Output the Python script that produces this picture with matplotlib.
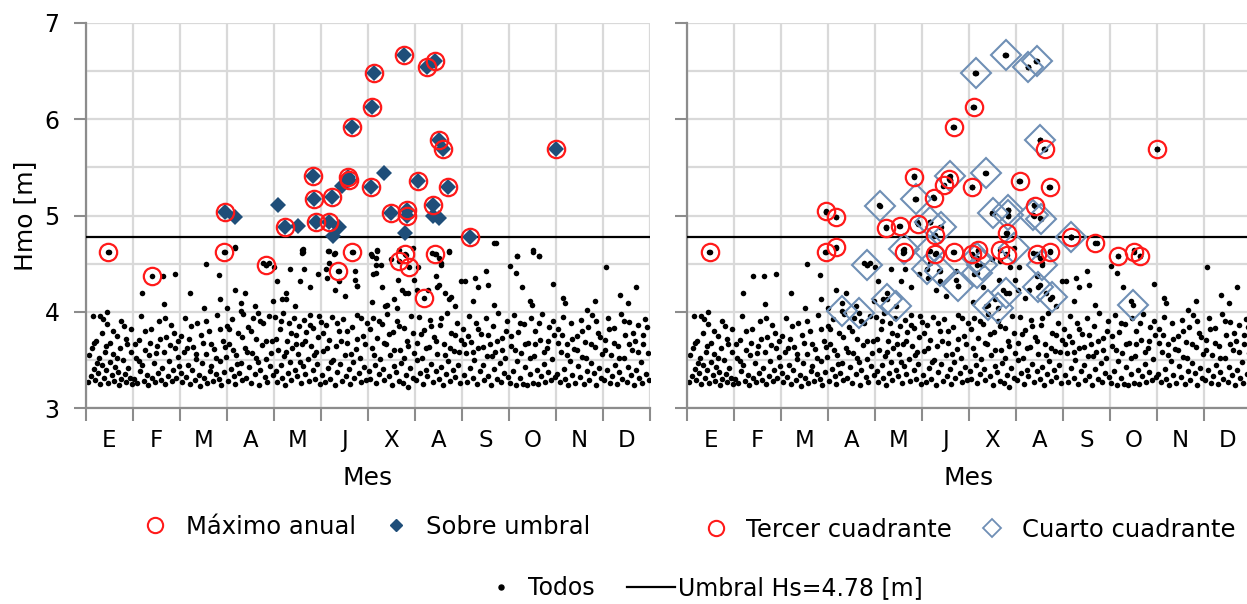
import matplotlib
matplotlib.use('Agg')
import matplotlib.pyplot as plt
from matplotlib.lines import Line2D
import numpy as np

plt.rcParams['font.family'] = ['DejaVu Sans']

# eje x en meses (0 = 1 de enero, 12 = 31 de diciembre)
meses = ['E', 'F', 'M', 'A', 'M', 'J', 'X', 'A', 'S', 'O', 'N', 'D']
umbral = 4.78

# todos los temporales (mes, Hmo)
todos_ene = [(0.05, 3.27), (0.10, 3.33), (0.12, 3.62), (0.15, 3.96), (0.18, 3.41), (0.20, 3.29),
             (0.22, 3.70), (0.25, 3.36), (0.28, 3.52), (0.30, 3.25), (0.33, 3.45), (0.35, 3.78),
             (0.38, 3.31), (0.40, 3.58), (0.42, 3.39), (0.45, 3.87), (0.47, 3.26), (0.50, 3.48),
             (0.52, 3.68), (0.55, 3.34), (0.58, 3.56), (0.60, 3.28), (0.62, 3.43), (0.65, 3.75),
             (0.68, 3.37), (0.70, 3.24), (0.72, 3.62), (0.75, 3.30), (0.78, 3.50), (0.80, 3.85),
             (0.83, 3.35), (0.85, 3.27), (0.88, 3.66), (0.90, 3.42), (0.93, 3.31), (0.95, 3.58),
             (0.98, 3.25), (0.45, 4.00), (0.30, 3.96),
             (0.07, 3.55), (0.16, 3.68), (0.24, 3.47), (0.36, 3.92), (0.43, 3.64), (0.57, 3.80),
             (0.66, 3.52), (0.74, 3.90), (0.86, 3.72), (0.96, 3.82)]
todos_feb = [(1.03, 3.30), (1.06, 3.52), (1.09, 3.26), (1.12, 3.71), (1.15, 3.38), (1.17, 3.96),
             (1.20, 3.45), (1.23, 3.28), (1.26, 3.60), (1.29, 3.34), (1.32, 3.24), (1.35, 3.55),
             (1.38, 3.82), (1.41, 3.31), (1.44, 3.47), (1.47, 3.27), (1.50, 3.64), (1.53, 3.36),
             (1.56, 3.90), (1.59, 3.29), (1.62, 3.42), (1.65, 3.58), (1.68, 3.25), (1.71, 3.74),
             (1.74, 3.33), (1.77, 3.49), (1.80, 3.86), (1.83, 3.28), (1.86, 3.39), (1.89, 3.62),
             (1.92, 3.31), (1.95, 3.53), (1.98, 3.44), (1.19, 4.20), (1.63, 4.37), (1.89, 4.39),
             (1.67, 4.08),
             (1.04, 3.66), (1.13, 3.49), (1.25, 3.80), (1.36, 3.68), (1.48, 3.57), (1.57, 3.72),
             (1.69, 3.94), (1.78, 3.65), (1.87, 3.78), (1.96, 3.70)]
todos_mar = [(2.02, 3.36), (2.05, 3.27), (2.08, 3.58), (2.10, 3.94), (2.13, 3.32), (2.16, 3.45),
             (2.19, 3.72), (2.22, 3.25), (2.25, 3.40), (2.28, 3.63), (2.31, 3.29), (2.34, 3.51),
             (2.37, 3.88), (2.40, 3.34), (2.43, 3.23), (2.46, 3.47), (2.49, 3.68), (2.52, 3.31),
             (2.55, 3.56), (2.58, 3.26), (2.61, 3.80), (2.64, 3.38), (2.67, 3.44), (2.70, 3.28),
             (2.73, 3.61), (2.76, 3.35), (2.79, 3.97), (2.82, 3.30), (2.85, 3.49), (2.88, 3.24),
             (2.91, 3.70), (2.94, 3.37), (2.97, 3.53), (2.99, 3.85), (2.21, 4.19), (2.56, 4.50),
             (2.82, 4.38), (2.86, 4.13), (2.51, 4.04), (2.99, 4.04),
             (2.03, 3.75), (2.14, 3.62), (2.23, 3.85), (2.35, 3.56), (2.44, 3.76), (2.56, 3.90),
             (2.65, 3.66), (2.77, 3.52), (2.86, 3.82), (2.95, 3.63)]
todos_abr = [(3.02, 3.28), (3.05, 3.66), (3.08, 3.41), (3.11, 3.92), (3.14, 3.33), (3.17, 3.25),
             (3.20, 3.55), (3.23, 3.78), (3.26, 3.36), (3.29, 3.47), (3.32, 3.29), (3.35, 3.98),
             (3.38, 3.62), (3.41, 3.31), (3.44, 3.84), (3.47, 3.43), (3.50, 3.26), (3.53, 3.57),
             (3.56, 3.93), (3.59, 3.35), (3.62, 3.72), (3.65, 3.48), (3.68, 3.24), (3.71, 3.39),
             (3.74, 3.65), (3.77, 3.88), (3.80, 3.32), (3.83, 3.51), (3.86, 3.27), (3.89, 3.96),
             (3.92, 3.44), (3.95, 3.70), (3.98, 3.34), (3.16, 4.66), (3.16, 4.23), (3.38, 4.20),
             (3.29, 4.09), (3.60, 4.06), (3.77, 4.51), (3.90, 4.51), (4.00, 4.46), (3.97, 4.11),
             (3.04, 3.82), (3.13, 3.60), (3.22, 3.46), (3.31, 3.74), (3.43, 3.58), (3.52, 3.80),
             (3.61, 3.52), (3.70, 3.90), (3.82, 3.70), (3.94, 3.57)]
todos_may = [(4.02, 3.95), (4.04, 3.38), (4.07, 3.27), (4.09, 3.60), (4.12, 3.82), (4.14, 3.45),
             (4.17, 3.31), (4.19, 3.99), (4.22, 3.54), (4.24, 3.24), (4.27, 3.70), (4.29, 3.36),
             (4.32, 3.88), (4.34, 3.48), (4.37, 3.29), (4.39, 3.62), (4.42, 3.93), (4.44, 3.40),
             (4.47, 3.76), (4.49, 3.33), (4.52, 3.56), (4.54, 3.85), (4.57, 3.26), (4.59, 3.67),
             (4.62, 3.44), (4.64, 3.91), (4.67, 3.35), (4.69, 3.79), (4.72, 3.51), (4.74, 3.28),
             (4.77, 3.97), (4.79, 3.64), (4.82, 3.39), (4.84, 3.83), (4.87, 3.30), (4.89, 3.58),
             (4.92, 3.46), (4.94, 3.74), (4.97, 3.25), (4.99, 3.89), (4.07, 4.32), (4.59, 4.64),
             (4.59, 4.61), (4.35, 4.44), (4.55, 4.32), (4.64, 4.44), (4.77, 4.26), (4.94, 4.39),
             (4.25, 4.20), (4.16, 4.13),
             (4.05, 3.72), (4.15, 3.90), (4.26, 3.58), (4.36, 3.78), (4.46, 3.66), (4.56, 3.48),
             (4.66, 3.70), (4.76, 3.86), (4.86, 3.55), (4.96, 3.96)]
todos_jun = [(5.02, 3.34), (5.05, 3.59), (5.08, 3.27), (5.11, 3.86), (5.14, 3.42), (5.17, 3.71),
             (5.20, 3.30), (5.23, 3.95), (5.26, 3.50), (5.29, 3.24), (5.32, 3.64), (5.35, 3.37),
             (5.38, 3.80), (5.41, 3.46), (5.44, 3.28), (5.47, 3.92), (5.50, 3.55), (5.53, 3.33),
             (5.56, 3.68), (5.59, 3.41), (5.62, 3.25), (5.65, 3.84), (5.68, 3.48), (5.71, 3.31),
             (5.74, 3.61), (5.77, 3.97), (5.80, 3.36), (5.83, 3.52), (5.86, 3.27), (5.89, 3.75),
             (5.92, 3.43), (5.95, 3.29), (5.98, 3.88), (5.16, 4.63), (5.29, 4.61), (5.16, 4.51),
             (5.12, 4.35), (5.38, 4.32), (5.72, 4.42), (5.72, 4.33), (5.77, 4.27), (5.29, 4.23),
             (5.51, 4.16),
             (5.04, 3.78), (5.13, 3.62), (5.22, 3.48), (5.34, 3.88), (5.43, 3.70), (5.55, 3.80),
             (5.64, 3.56), (5.76, 3.72), (5.85, 3.94), (5.94, 3.66)]
todos_jul = [(6.02, 3.38), (6.05, 3.30), (6.08, 3.62), (6.11, 3.94), (6.14, 3.45), (6.17, 3.26),
             (6.20, 3.73), (6.23, 3.35), (6.26, 3.51), (6.29, 3.87), (6.32, 3.41), (6.35, 3.29),
             (6.38, 3.66), (6.41, 3.98), (6.44, 3.33), (6.47, 3.55), (6.50, 3.24), (6.53, 3.79),
             (6.56, 3.44), (6.59, 3.37), (6.62, 3.90), (6.65, 3.28), (6.68, 3.60), (6.71, 3.47),
             (6.74, 3.26), (6.77, 3.83), (6.80, 3.34), (6.83, 3.70), (6.86, 3.22), (6.89, 3.42),
             (6.92, 3.96), (6.95, 3.31), (6.98, 3.57), (6.09, 4.58), (6.20, 4.63), (6.16, 4.49),
             (6.48, 4.55), (6.64, 4.33), (6.11, 4.39), (6.72, 4.23), (6.55, 4.13), (6.85, 4.20),
             (6.98, 4.33), (6.29, 4.26), (6.09, 4.10), (6.37, 4.06),
             (6.04, 3.82), (6.13, 3.55), (6.24, 3.90), (6.34, 3.68), (6.45, 3.77), (6.55, 3.60),
             (6.66, 3.85), (6.76, 3.52), (6.85, 3.64), (6.96, 3.78)]
todos_ago = [(7.02, 3.29), (7.05, 3.68), (7.08, 3.95), (7.11, 3.36), (7.14, 3.52), (7.17, 3.25),
             (7.20, 3.81), (7.23, 3.40), (7.26, 3.33), (7.29, 3.63), (7.32, 3.91), (7.35, 3.46),
             (7.38, 3.27), (7.41, 3.74), (7.44, 3.38), (7.47, 3.56), (7.50, 3.30), (7.53, 3.86),
             (7.56, 3.43), (7.59, 3.24), (7.62, 3.66), (7.65, 3.35), (7.68, 3.99), (7.71, 3.49),
             (7.74, 3.28), (7.77, 3.78), (7.80, 3.39), (7.83, 3.59), (7.86, 3.32), (7.89, 3.88),
             (7.92, 3.45), (7.95, 3.26), (7.98, 3.71), (7.07, 4.47), (7.04, 4.23), (7.37, 4.61),
             (7.50, 4.56), (7.55, 4.51), (7.72, 4.63), (7.44, 4.37), (7.50, 4.28), (7.63, 4.20),
             (7.72, 4.13), (7.28, 4.23), (7.85, 4.06),
             (7.04, 3.50), (7.13, 3.77), (7.24, 3.62), (7.34, 3.85), (7.45, 3.70), (7.55, 3.94),
             (7.64, 3.55), (7.75, 3.62), (7.85, 3.76), (7.94, 3.58)]
todos_sep = [(8.02, 3.82), (8.05, 3.34), (8.08, 3.57), (8.11, 3.27), (8.14, 3.96), (8.17, 3.42),
             (8.20, 3.69), (8.23, 3.31), (8.26, 3.50), (8.29, 3.88), (8.32, 3.25), (8.35, 3.62),
             (8.38, 3.38), (8.41, 3.77), (8.44, 3.45), (8.47, 3.29), (8.50, 3.93), (8.53, 3.54),
             (8.56, 3.33), (8.59, 3.66), (8.62, 3.24), (8.65, 3.85), (8.68, 3.41), (8.71, 3.58),
             (8.74, 3.30), (8.77, 3.99), (8.80, 3.47), (8.83, 3.27), (8.86, 3.73), (8.89, 3.36),
             (8.92, 3.52), (8.95, 3.90), (8.98, 3.32), (7.98, 4.32), (8.06, 4.32), (8.28, 4.35),
             (8.33, 4.26), (8.50, 4.42), (8.72, 4.71), (8.55, 4.28), (8.24, 4.11), (8.68, 4.07),
             (8.04, 3.66), (8.13, 3.75), (8.24, 3.58), (8.34, 3.82), (8.45, 3.63), (8.55, 3.76),
             (8.64, 3.54), (8.75, 3.70), (8.85, 3.60), (8.94, 3.80)]
todos_oct = [(9.02, 3.26), (9.05, 3.64), (9.08, 3.38), (9.11, 3.97), (9.14, 3.24), (9.17, 3.49),
             (9.20, 3.79), (9.23, 3.31), (9.26, 3.57), (9.29, 3.25), (9.32, 3.87), (9.35, 3.43),
             (9.38, 3.24), (9.41, 3.68), (9.44, 3.35), (9.47, 3.93), (9.50, 3.26), (9.53, 3.54),
             (9.56, 3.80), (9.59, 3.40), (9.62, 3.25), (9.65, 3.71), (9.68, 3.33), (9.71, 3.98),
             (9.74, 3.46), (9.77, 3.27), (9.80, 3.62), (9.83, 3.37), (9.86, 3.84), (9.89, 3.29),
             (9.92, 3.51), (9.95, 3.76), (9.98, 3.32), (9.02, 4.48), (9.18, 4.58), (9.50, 4.64),
             (9.63, 4.58), (9.15, 4.40), (9.28, 4.26), (9.45, 4.11), (9.93, 4.29),
             (9.04, 3.75), (9.13, 3.60), (9.24, 3.88), (9.34, 3.66), (9.45, 3.52), (9.55, 3.66),
             (9.64, 3.88), (9.75, 3.58), (9.84, 3.70), (9.94, 3.90)]
todos_nov = [(10.02, 3.35), (10.05, 3.82), (10.08, 3.27), (10.11, 3.58), (10.14, 3.95), (10.17, 3.41),
             (10.20, 3.30), (10.23, 3.67), (10.26, 3.24), (10.29, 3.49), (10.32, 3.88), (10.35, 3.34),
             (10.38, 3.61), (10.41, 3.26), (10.44, 3.75), (10.47, 3.44), (10.50, 3.32), (10.53, 3.91),
             (10.56, 3.53), (10.59, 3.25), (10.62, 3.69), (10.65, 3.38), (10.68, 3.84), (10.71, 3.29),
             (10.74, 3.47), (10.77, 3.97), (10.80, 3.36), (10.83, 3.63), (10.86, 3.24), (10.89, 3.78),
             (10.92, 3.42), (10.95, 3.31), (10.98, 3.56), (10.15, 4.14), (10.19, 4.09), (10.67, 4.02),
             (10.84, 4.11),
             (10.04, 3.68), (10.13, 3.76), (10.24, 3.55), (10.34, 3.72), (10.45, 3.60), (10.55, 3.80),
             (10.64, 3.52), (10.75, 3.66), (10.85, 3.90), (10.94, 3.74)]
todos_dic = [(11.02, 3.29), (11.05, 3.71), (11.08, 3.40), (11.11, 3.94), (11.14, 3.26), (11.17, 3.55),
             (11.20, 3.33), (11.23, 3.83), (11.26, 3.45), (11.29, 3.25), (11.32, 3.64), (11.35, 3.37),
             (11.38, 3.98), (11.41, 3.30), (11.44, 3.52), (11.47, 3.76), (11.50, 3.27), (11.53, 3.43),
             (11.56, 3.89), (11.59, 3.34), (11.62, 3.60), (11.65, 3.24), (11.68, 3.70), (11.71, 3.39),
             (11.74, 3.86), (11.77, 3.31), (11.80, 3.48), (11.83, 3.26), (11.86, 3.67), (11.89, 3.92),
             (11.92, 3.35), (11.95, 3.57), (11.98, 3.29), (11.06, 4.47), (11.37, 4.17), (11.71, 4.26),
             (11.54, 4.09),
             (11.04, 3.60), (11.13, 3.82), (11.24, 3.68), (11.34, 3.52), (11.45, 3.90), (11.55, 3.66),
             (11.64, 3.78), (11.75, 3.58), (11.85, 3.76), (11.94, 3.84)]

# maximo anual (circulos rojos, panel izquierdo)
maximo_anual = [(2.96, 5.04), (4.23, 4.88), (4.84, 5.41), (4.86, 5.17), (4.89, 4.93), (5.16, 4.93),
                (5.24, 5.19), (5.57, 5.40), (5.59, 5.37), (5.67, 5.92), (6.06, 5.30), (6.08, 6.13),
                (6.13, 6.48), (6.48, 5.03), (6.77, 6.67), (6.82, 5.06), (6.82, 5.00), (7.07, 5.36),
                (7.25, 6.54), (7.43, 6.61), (7.39, 5.11), (7.50, 5.78), (7.60, 5.69), (7.71, 5.30),
                (8.16, 4.78), (10.00, 5.69), (0.47, 4.62), (1.40, 4.37), (2.94, 4.62), (3.83, 4.49),
                (5.36, 4.42), (5.67, 4.62), (6.66, 4.53), (6.79, 4.60), (6.87, 4.46), (7.20, 4.14),
                (7.43, 4.60)]

# sobre umbral (rombos azules, panel izquierdo)
sobre_umbral = [(2.96, 5.04), (4.23, 4.88), (4.84, 5.41), (4.86, 5.17), (4.89, 4.93), (5.16, 4.93),
                (5.24, 5.19), (5.57, 5.40), (5.59, 5.37), (5.67, 5.92), (6.06, 5.30), (6.08, 6.13),
                (6.13, 6.48), (6.48, 5.03), (6.77, 6.67), (6.82, 5.06), (6.82, 5.00), (7.07, 5.36),
                (7.25, 6.54), (7.43, 6.61), (7.39, 5.11), (7.50, 5.78), (7.60, 5.69), (7.71, 5.30),
                (8.16, 4.78), (10.00, 5.69), (3.16, 4.98), (4.09, 5.11), (4.52, 4.89), (5.26, 4.79),
                (5.39, 4.88), (5.44, 5.31), (6.35, 5.44), (6.79, 4.82), (7.38, 5.00), (7.52, 4.97)]

# tercer cuadrante (circulos rojos, panel derecho)
tercer = [(0.49, 4.62), (2.95, 5.05), (3.17, 4.98), (2.95, 4.62), (3.17, 4.67), (4.23, 4.87),
          (4.53, 4.89), (4.61, 4.62), (4.84, 5.40), (4.91, 4.91), (5.25, 5.18), (5.27, 4.80),
          (5.28, 4.60), (5.47, 5.32), (5.57, 5.38), (5.68, 5.92), (5.68, 4.62), (6.06, 5.30),
          (6.11, 6.13), (6.07, 4.60), (6.19, 4.64), (6.65, 4.64), (6.80, 4.82), (6.80, 4.59),
          (7.08, 5.36), (7.40, 5.10), (7.44, 4.60), (7.61, 5.69), (7.73, 5.30), (7.73, 4.62),
          (8.18, 4.78), (8.69, 4.71), (9.17, 4.58), (9.51, 4.62), (9.64, 4.58), (10.00, 5.69)]

# cuarto cuadrante (rombos huecos, panel derecho)
cuarto = [(6.79, 6.67), (7.25, 6.54), (7.44, 6.61), (6.14, 6.48), (7.51, 5.78), (5.60, 5.41),
          (6.37, 5.44), (4.11, 5.10), (4.87, 5.17), (5.17, 4.93), (5.40, 4.88), (6.50, 5.03),
          (6.82, 5.06), (6.82, 5.01), (7.37, 5.01), (7.54, 4.96), (8.18, 4.78), (4.62, 4.65),
          (5.14, 4.63), (6.16, 4.56), (6.95, 4.66), (3.84, 4.49), (5.10, 4.44), (5.38, 4.42),
          (7.56, 4.49), (3.30, 4.01), (3.66, 3.99), (4.26, 4.13), (4.45, 4.06), (5.77, 4.27),
          (6.17, 4.40), (6.28, 4.49), (6.40, 4.07), (6.62, 4.04), (6.79, 4.20), (7.47, 4.26),
          (7.77, 4.15), (9.49, 4.07)]

todos = (todos_ene + todos_feb + todos_mar + todos_abr + todos_may + todos_jun + todos_jul
         + todos_ago + todos_sep + todos_oct + todos_nov + todos_dic
         + maximo_anual + sobre_umbral + tercer + cuarto)
todos = np.array(todos)
maximo_anual = np.array(maximo_anual)
sobre_umbral = np.array(sobre_umbral)
tercer = np.array(tercer)
cuarto = np.array(cuarto)

rojo = '#ff1a1a'
azul = '#1f4e79'
azul_claro = '#6f8fb5'
eje = '#8c8c8c'
rejilla = '#d9d9d9'

fig = plt.figure(figsize=(12.47, 6.04), dpi=100, facecolor='white')
ax1 = fig.add_axes([86 / 1247, 196 / 604, 564 / 1247, 385 / 604])
ax2 = fig.add_axes([687 / 1247, 196 / 604, 564 / 1247, 385 / 604])


def base(ax, etiquetas_y):
    ax.set_xlim(0, 12)
    ax.set_ylim(3, 7)
    ax.set_xticks(np.arange(0, 13))
    ax.set_xticks(np.arange(12) + 0.5, minor=True)
    ax.set_xticklabels([])
    ax.set_xticklabels(meses, minor=True, fontsize=16.5)
    ax.set_yticks(np.arange(3, 8))
    ax.set_yticks(np.arange(3.5, 7, 1.0), minor=True)
    if etiquetas_y:
        ax.set_yticklabels([str(v) for v in range(3, 8)], fontsize=17)
    else:
        ax.set_yticklabels([])
    ax.tick_params(axis='x', which='major', length=9, width=1.5, color=eje, direction='out')
    ax.tick_params(axis='x', which='minor', length=0, pad=15)
    ax.tick_params(axis='y', which='major', length=9, width=1.5, color=eje, direction='out', pad=10)
    ax.tick_params(axis='y', which='minor', length=0)
    ax.grid(True, which='major', color=rejilla, linewidth=1.6, zorder=0)
    ax.grid(True, which='minor', axis='y', color=rejilla, linewidth=1.6, zorder=0)
    ax.set_axisbelow(True)
    for s in ['top', 'right']:
        ax.spines[s].set_visible(False)
    for s in ['left', 'bottom']:
        ax.spines[s].set_color(eje)
        ax.spines[s].set_linewidth(1.6)
    ax.set_xlabel('Mes', fontsize=18, labelpad=10)
    ax.plot(todos[:, 0], todos[:, 1], 'o', color='black', markersize=4.0, markeredgewidth=0, zorder=2)
    ax.axhline(umbral, color='black', linewidth=1.6, zorder=3)


base(ax1, True)
base(ax2, False)
ax1.set_ylabel('Hmo [m]', fontsize=18, labelpad=5)

ax1.plot(sobre_umbral[:, 0], sobre_umbral[:, 1], 'D', color=azul, markersize=8,
         markeredgewidth=0, zorder=4)
ax1.plot(maximo_anual[:, 0], maximo_anual[:, 1], 'o', markerfacecolor='none',
         markeredgecolor=rojo, markersize=12.5, markeredgewidth=1.6, zorder=5)

ax2.plot(cuarto[:, 0], cuarto[:, 1], 'D', markerfacecolor='none', markeredgecolor=azul_claro,
         markersize=15, markeredgewidth=1.5, zorder=4)
ax2.plot(tercer[:, 0], tercer[:, 1], 'o', markerfacecolor='none', markeredgecolor=rojo,
         markersize=12.5, markeredgewidth=1.6, zorder=5)

h_max = Line2D([], [], linestyle='none', marker='o', markerfacecolor='none',
               markeredgecolor=rojo, markersize=11, markeredgewidth=1.5)
h_sob = Line2D([], [], linestyle='none', marker='D', color=azul, markersize=6)
h_ter = Line2D([], [], linestyle='none', marker='o', markerfacecolor='none',
               markeredgecolor=rojo, markersize=11, markeredgewidth=1.5)
h_cua = Line2D([], [], linestyle='none', marker='D', markerfacecolor='none',
               markeredgecolor=azul_claro, markersize=9, markeredgewidth=1.3)
h_tod = Line2D([], [], linestyle='none', marker='o', color='black', markersize=3.6)
h_umb = Line2D([], [], color='black', linewidth=1.6)

ley = dict(frameon=False, fontsize=17.5, handlelength=1.3, handletextpad=0.6, columnspacing=1.0,
           ncol=2, loc='center')
fig.legend([h_max, h_sob], ['Máximo anual', 'Sobre umbral'],
           bbox_to_anchor=(365 / 1247, 1 - 527 / 604), **ley)
fig.legend([h_ter, h_cua], ['Tercer cuadrante', 'Cuarto cuadrante'],
           bbox_to_anchor=(968 / 1247, 1 - 530 / 604), **ley)
fig.legend([h_tod, h_umb], ['Todos', 'Umbral Hs=4.78 [m]'],
           bbox_to_anchor=(700 / 1247, 1 - 588 / 604), frameon=False, fontsize=17,
           handlelength=2.0, handletextpad=0.15, columnspacing=1.4, ncol=2, loc='center')

fig.savefig('out.png', dpi=100, facecolor='white')
